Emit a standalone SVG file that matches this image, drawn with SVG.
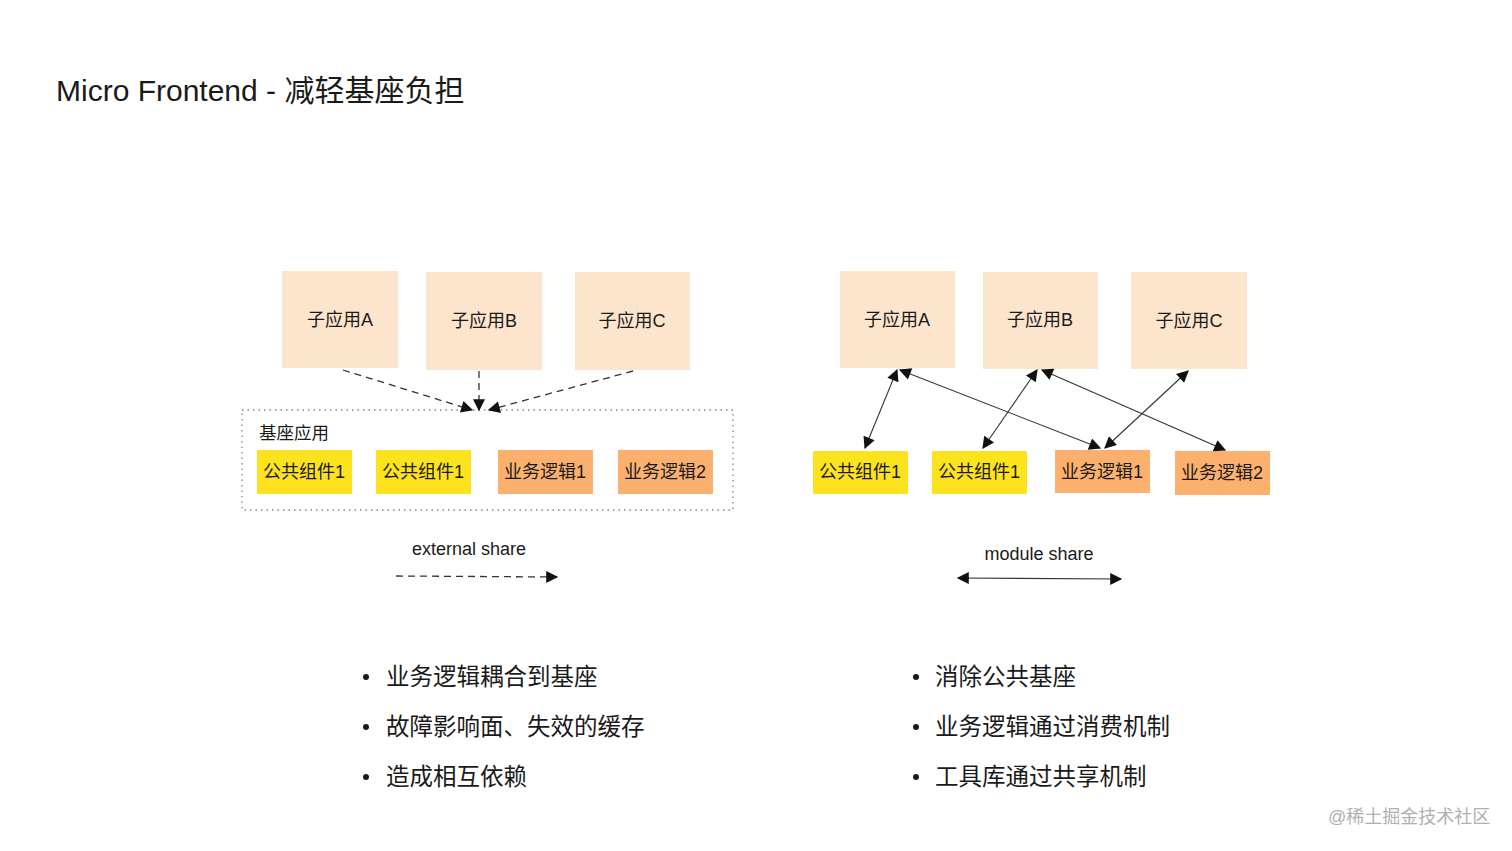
<svg xmlns="http://www.w3.org/2000/svg" width="1512" height="851" viewBox="0 0 1512 851">
<defs>
<style>
text{font-family:"Liberation Sans","Noto Sans CJK SC",sans-serif;fill:#1a1a1a}
.app{fill:#fde5cd}
.y{fill:#fde21e}
.o{fill:#fbb16d}
.bt{font-size:18px;text-anchor:middle;dominant-baseline:central}
.li{font-size:23.5px}
.dash{stroke:#333;stroke-width:1.3;stroke-dasharray:7 5;fill:none}
.sol{stroke:#333;stroke-width:1.1;fill:none}
</style>
<marker id="ah2" viewBox="0 0 10 10" refX="9" refY="5" markerWidth="14" markerHeight="12" markerUnits="userSpaceOnUse" orient="auto-start-reverse"><path d="M0,0 L10,5 L0,10 z" fill="#111"/></marker>
</defs>
<rect width="1512" height="851" fill="#fff"/>
<text x="56" y="101" font-size="30">Micro Frontend - 减轻基座负担</text>

<g id="left-container">
<rect x="242" y="410" width="491" height="100" fill="none" stroke="#888" stroke-width="1.3" stroke-dasharray="1.5 4"/>
<text x="259" y="439" font-size="17.5">基座应用</text>
</g>
<g id="L-appA"><rect class="app" x="282" y="271" width="116" height="97"/><text class="bt" x="340" y="320">子应用A</text></g>
<g id="L-appB"><rect class="app" x="426" y="272" width="116" height="98"/><text class="bt" x="484" y="321">子应用B</text></g>
<g id="L-appC"><rect class="app" x="575" y="272" width="115" height="98"/><text class="bt" x="632" y="321">子应用C</text></g>
<g id="L-c1"><rect class="y" x="257" y="450" width="95" height="44"/><text class="bt" x="304" y="472">公共组件1</text></g>
<g id="L-c2"><rect class="y" x="376" y="450" width="95" height="44"/><text class="bt" x="423" y="472">公共组件1</text></g>
<g id="L-b1"><rect class="o" x="498" y="450" width="95" height="44"/><text class="bt" x="545" y="472">业务逻辑1</text></g>
<g id="L-b2"><rect class="o" x="618" y="450" width="95" height="44"/><text class="bt" x="665" y="472">业务逻辑2</text></g>

<g id="R-appA"><rect class="app" x="840" y="271" width="115" height="97"/><text class="bt" x="897" y="320">子应用A</text></g>
<g id="R-appB"><rect class="app" x="983" y="272" width="115" height="97"/><text class="bt" x="1040" y="320">子应用B</text></g>
<g id="R-appC"><rect class="app" x="1131" y="272" width="116" height="97"/><text class="bt" x="1189" y="321">子应用C</text></g>
<g id="R-c1"><rect class="y" x="813" y="451" width="95" height="43"/><text class="bt" x="860" y="472">公共组件1</text></g>
<g id="R-c2"><rect class="y" x="932" y="451" width="95" height="43"/><text class="bt" x="979" y="472">公共组件1</text></g>
<g id="R-b1"><rect class="o" x="1055" y="450" width="95" height="43"/><text class="bt" x="1102" y="472">业务逻辑1</text></g>
<g id="R-b2"><rect class="o" x="1175" y="451" width="95" height="44"/><text class="bt" x="1222" y="473">业务逻辑2</text></g>

<g id="connectors">
<line class="dash" x1="343" y1="370" x2="472" y2="410" marker-end="url(#ah2)"/>
<line class="dash" x1="479" y1="371" x2="479" y2="410" marker-end="url(#ah2)"/>
<line class="dash" x1="633" y1="371" x2="489" y2="410" marker-end="url(#ah2)"/>
<line class="sol" x1="897" y1="370" x2="865" y2="448" marker-start="url(#ah2)" marker-end="url(#ah2)"/>
<line class="sol" x1="900" y1="370" x2="1100" y2="448" marker-start="url(#ah2)" marker-end="url(#ah2)"/>
<line class="sol" x1="1037" y1="370" x2="983" y2="448" marker-start="url(#ah2)" marker-end="url(#ah2)"/>
<line class="sol" x1="1042" y1="370" x2="1225" y2="450" marker-start="url(#ah2)" marker-end="url(#ah2)"/>
<line class="sol" x1="1188" y1="371" x2="1105" y2="448" marker-start="url(#ah2)" marker-end="url(#ah2)"/>
<line class="dash" x1="396" y1="576" x2="557" y2="577" stroke-dasharray="6 6" marker-end="url(#ah2)"/>
<line class="sol" x1="958" y1="578" x2="1121" y2="579" marker-start="url(#ah2)" marker-end="url(#ah2)"/>
</g>
<text x="469" y="555" font-size="18" text-anchor="middle">external share</text>
<text x="1039" y="560" font-size="18" text-anchor="middle">module share</text>

<g id="left-list">
<circle cx="366" cy="677" r="3" fill="#1a1a1a"/><text class="li" x="386" y="685">业务逻辑耦合到基座</text>
<circle cx="366" cy="727" r="3" fill="#1a1a1a"/><text class="li" x="386" y="735">故障影响面、失效的缓存</text>
<circle cx="366" cy="777" r="3" fill="#1a1a1a"/><text class="li" x="386" y="785">造成相互依赖</text>
</g>
<g id="right-list">
<circle cx="916" cy="677" r="3" fill="#1a1a1a"/><text class="li" x="935" y="685">消除公共基座</text>
<circle cx="916" cy="727" r="3" fill="#1a1a1a"/><text class="li" x="935" y="735">业务逻辑通过消费机制</text>
<circle cx="916" cy="777" r="3" fill="#1a1a1a"/><text class="li" x="935" y="785">工具库通过共享机制</text>
</g>
<text x="1328" y="823" font-size="18" style="fill:#b0b0b0">@稀土掘金技术社区</text>
</svg>
